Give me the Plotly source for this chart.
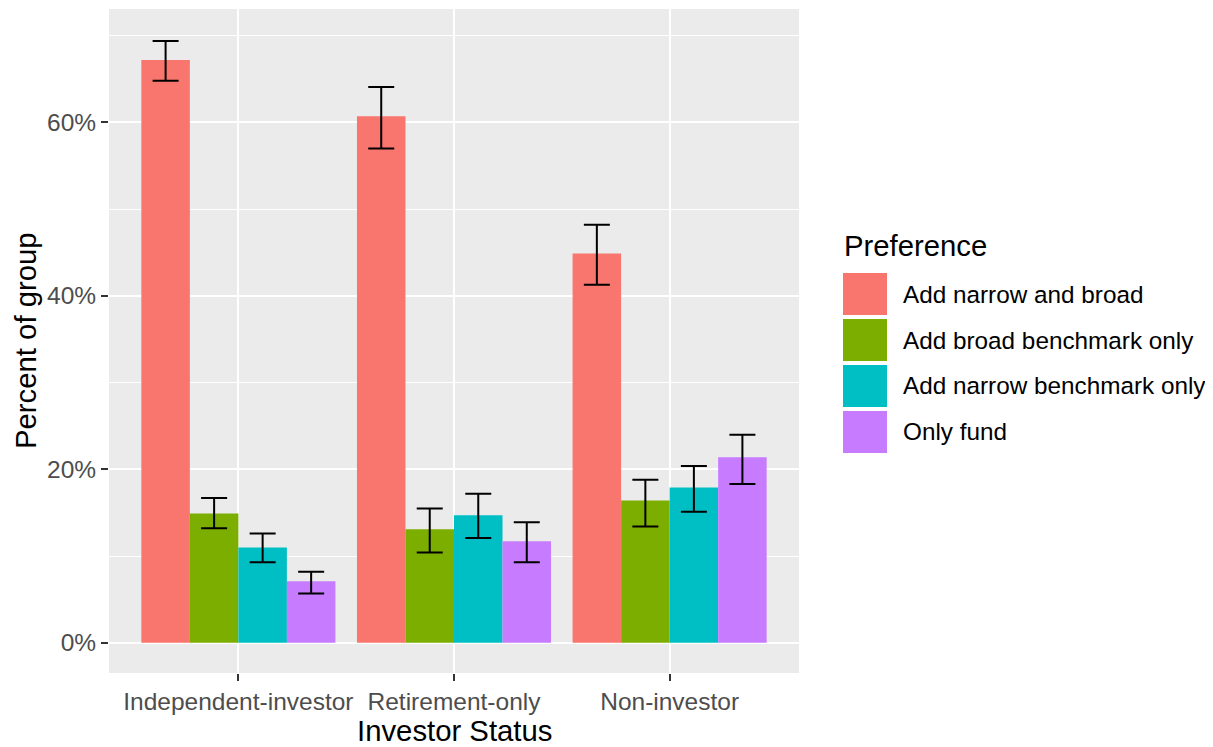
import plotly.graph_objects as go

# ---- data ----
categories = ["Independent-investor", "Retirement-only", "Non-investor"]
series_names = ["Add narrow and broad", "Add broad benchmark only",
                "Add narrow benchmark only", "Only fund"]
values = {
    "Add narrow and broad":      [67.2, 60.7, 44.9],
    "Add broad benchmark only":  [14.9, 13.1, 16.4],
    "Add narrow benchmark only": [11.0, 14.7, 17.9],
    "Only fund":                 [7.1, 11.7, 21.4],
}
lower = {
    "Add narrow and broad":      [64.8, 57.0, 41.3],
    "Add broad benchmark only":  [13.2, 10.4, 13.4],
    "Add narrow benchmark only": [9.3, 12.1, 15.1],
    "Only fund":                 [5.7, 9.3, 18.3],
}
upper = {
    "Add narrow and broad":      [69.4, 64.1, 48.2],
    "Add broad benchmark only":  [16.7, 15.5, 18.8],
    "Add narrow benchmark only": [12.6, 17.2, 20.4],
    "Only fund":                 [8.2, 13.9, 24.0],
}
y_ticks = [0, 20, 40, 60]
y_tick_labels = ["0%", "20%", "40%", "60%"]
y_minor = [10, 30, 50, 70]

colors = ["#F8766D", "#7CAE00", "#00BFC4", "#C77CFF"]

# page body adds an 8px offset; work in reference pixel coords and shift
OFF = 8
W, H = 1213 - OFF, 747 - OFF
L, T = 109 - OFF, 9 - OFF
pw, ph = 690, 664
R = W - L - pw
B = H - T - ph

fig = go.Figure()
for name, col in zip(series_names, colors):
    v = values[name]
    fig.add_trace(go.Bar(
        x=categories, y=v, name=name, marker=dict(color=col, line=dict(width=0)),
        showlegend=False,
        error_y=dict(type="data", symmetric=False,
                     array=[u - a for u, a in zip(upper[name], v)],
                     arrayminus=[a - l for a, l in zip(v, lower[name])],
                     color="black", thickness=2, width=13),
    ))

FAM = "Arial, Liberation Sans"
tick_font = dict(family=FAM, size=24.5, color="#4D4D4D")
title_font = dict(family=FAM, size=29.3, color="black")

fig.update_layout(
    width=W, height=H,
    margin=dict(l=L, r=R, t=T, b=B),
    paper_bgcolor="white", plot_bgcolor="#EBEBEB",
    barmode="group", bargap=0.1, bargroupgap=0,
    font=dict(family=FAM),
    xaxis=dict(range=[-0.6, 2.6], showgrid=True, gridcolor="white", gridwidth=2,
               ticks="outside", ticklen=7, tickwidth=2, tickcolor="#333333",
               tickfont=tick_font, zeroline=False, showline=False),
    yaxis=dict(range=[-3.48, 73.08], tickvals=y_ticks, ticktext=y_tick_labels,
               showgrid=True, gridcolor="white", gridwidth=2,
               ticks="outside", ticklen=7, tickwidth=2, tickcolor="#333333",
               tickfont=tick_font, zeroline=False, showline=False,
               minor=dict(tickvals=y_minor, showgrid=True, gridcolor="white",
                          gridwidth=1, ticks="")),
)

# convert reference-pixel positions to paper coordinates
def px_x(p):
    return (p - OFF - L) / pw

def px_y(p):
    return (H - B - (p - OFF)) / ph

# axis titles
fig.add_annotation(text="Investor Status", xref="paper", yref="paper",
                   x=0.5, y=px_y(730), xanchor="center", yanchor="middle",
                   showarrow=False, font=title_font)
fig.add_annotation(text="Percent of group", xref="paper", yref="paper",
                   x=px_x(25), y=px_y(341), xanchor="center", yanchor="middle",
                   textangle=-90, showarrow=False, font=title_font)

# legend (drawn)
fig.add_annotation(text="Preference", xref="paper", yref="paper",
                   x=px_x(842), y=px_y(245), xanchor="left", yanchor="middle",
                   showarrow=False, font=title_font)
key_top0 = 273
pitch = 46
for i, (name, col) in enumerate(zip(series_names, colors)):
    top = key_top0 + i * pitch
    fig.add_shape(type="rect", xref="paper", yref="paper",
                  x0=px_x(843), x1=px_x(887), y0=px_y(top + 42), y1=px_y(top),
                  fillcolor=col, line=dict(width=0))
    fig.add_annotation(text=name, xref="paper", yref="paper",
                       x=px_x(901), y=px_y(top + 21), xanchor="left", yanchor="middle",
                       showarrow=False,
                       font=dict(family=FAM, size=24.3, color="black"))

fig.write_html("out.html")
